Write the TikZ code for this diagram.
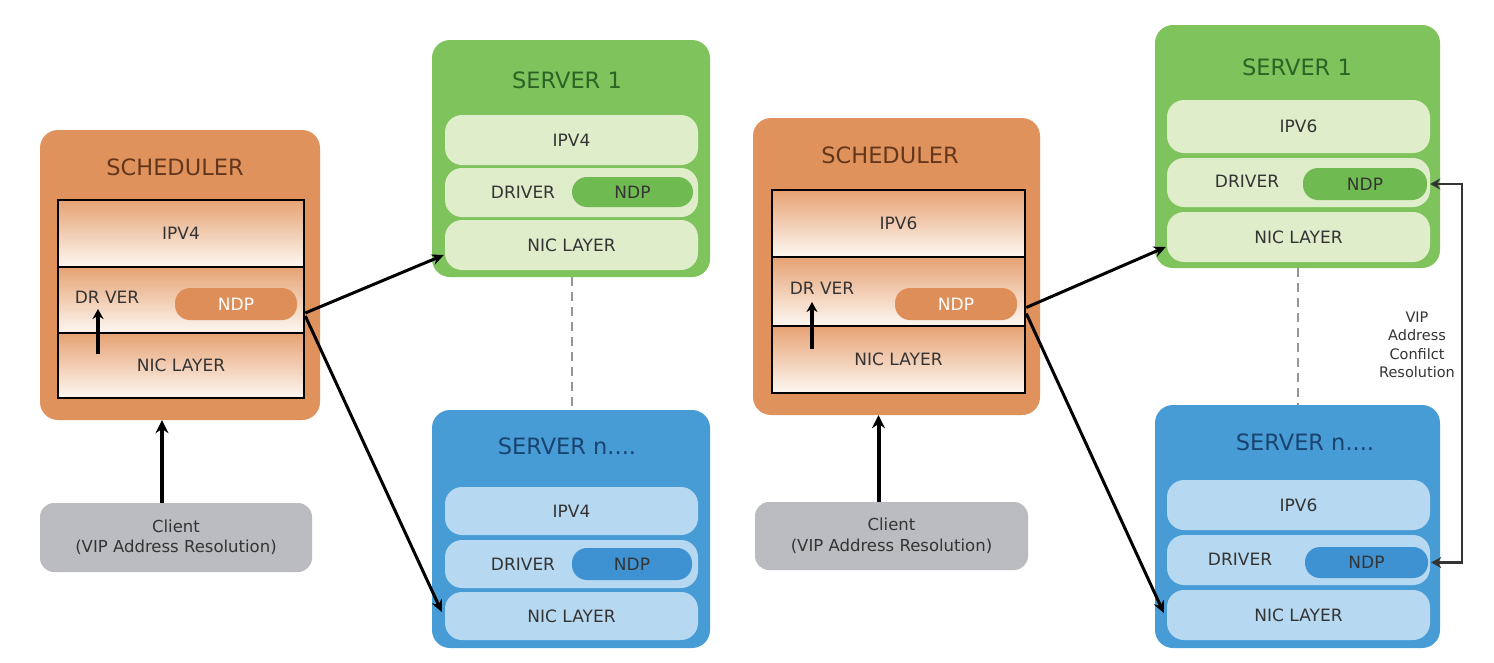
\documentclass[tikz,border=0pt]{standalone}
\usepackage{fontspec}
\setmainfont{DejaVu Sans}
\usetikzlibrary{arrows.meta}
\definecolor{orangeout}{RGB}{224,146,92}
\definecolor{orangendp}{RGB}{222,142,88}
\definecolor{stktop}{RGB}{230,162,115}
\definecolor{stkbot}{RGB}{253,248,243}
\definecolor{schtxt}{RGB}{100,55,28}
\definecolor{greenout}{RGB}{126,195,92}
\definecolor{greenpill}{RGB}{223,237,202}
\definecolor{greenndp}{RGB}{112,186,82}
\definecolor{greentxt}{RGB}{45,100,38}
\definecolor{blueout}{RGB}{72,156,214}
\definecolor{bluepill}{RGB}{182,216,240}
\definecolor{bluendp}{RGB}{62,146,210}
\definecolor{bluetxt}{RGB}{25,68,112}
\definecolor{clientgray}{RGB}{186,188,191}
\definecolor{txtgray}{RGB}{52,52,52}
\definecolor{dashgray}{RGB}{150,150,150}
\begin{document}
\begin{tikzpicture}[x=1pt,y=-1pt,
  outer/.style={rounded corners=18pt, inner sep=0pt, draw=none},
  pill/.style={rounded corners=17pt, inner sep=0pt, draw=none},
  ndppill/.style={rounded corners=15pt, inner sep=0pt, draw=none, font=\fontsize{17}{20}\selectfont},
  lbl/.style={font=\fontsize{17}{20}\selectfont, text=txtgray, inner sep=0pt},
  ttl/.style={font=\fontsize{22.5}{26}\selectfont, inner sep=0pt},
  stackrow/.style={draw=black, line width=2.6pt, top color=stktop, bottom color=stkbot, inner sep=0pt, font=\fontsize{17}{20}\selectfont, text=txtgray},
  bigarrow/.style={line width=4pt, -{Stealth[length=13pt,width=13pt]}},
  link/.style={line width=3pt, -{Stealth[length=12pt,width=11pt]}},
  smallarrow/.style={line width=3.2pt, -{Stealth[length=10pt,width=11pt]}},
  dashlink/.style={dashgray, line width=2pt, dash pattern=on 9pt off 6pt},
  clientbox/.style={rounded corners=14pt, fill=clientgray, inner sep=0pt, align=center, font=\fontsize{16.5}{20.5}\selectfont, text=txtgray}
]
\useasboundingbox[fill=white] (0,0) rectangle (1494,662);

% ---------------- left half ----------------
\node[outer, fill=orangeout, minimum width=280pt, minimum height=290pt] (sch1) at (180,275) {};
\node[ttl, text=schtxt] (sch1t) at (175,167) {SCHEDULER};
\node[stackrow, minimum width=246pt, minimum height=67pt] (sch1ipv) at (181,233.5) {IPV4};
\node[stackrow, minimum width=246pt, minimum height=66pt] (sch1drv) at (181,300) {};
\node[stackrow, minimum width=246pt, minimum height=65pt] (sch1nic) at (181,365.5) {NIC LAYER};
\node[lbl] (sch1drvt) at (107,297) {DR VER};
\node[ndppill, fill=orangendp, text=white, minimum width=122pt, minimum height=32pt] (sch1ndp) at (236,304) {NDP};
\coordinate (ua1) at (98,354);
\coordinate (ub1) at (98,309);
\draw[smallarrow] (ua1) -- (ub1);

\node[clientbox, minimum width=272pt, minimum height=69pt] (cl1) at (176,537.5) {Client\\(VIP Address Resolution)};
\draw[bigarrow] ([xshift=-14pt]cl1.north) -- ([xshift=-14pt]cl1.north |- sch1.south);

\node[outer, fill=greenout, minimum width=278pt, minimum height=237pt] (s1) at (571,158.5) {};
\node[ttl, text=greentxt] (s1t) at (567,80) {SERVER 1};
\node[pill, fill=greenpill, minimum width=253pt, minimum height=50pt, lbl] (s1ipv) at (571.5,140) {IPV4};
\node[pill, fill=greenpill, minimum width=253pt, minimum height=49pt] (s1drv) at (571.5,192.5) {};
\node[pill, fill=greenpill, minimum width=253pt, minimum height=50pt, lbl] (s1nic) at (571.5,245) {NIC LAYER};
\node[lbl] (s1drvt) at (523,192) {DRIVER};
\node[ndppill, fill=greenndp, text=txtgray, minimum width=121pt, minimum height=30pt] (s1ndp) at (632.5,192) {NDP};

\node[outer, fill=blueout, minimum width=278pt, minimum height=238pt] (s2) at (571,529) {};
\node[ttl, text=bluetxt] (s2t) at (567,446) {SERVER n....};
\node[pill, fill=bluepill, minimum width=253pt, minimum height=48pt, lbl] (s2ipv) at (571.5,511) {IPV4};
\node[pill, fill=bluepill, minimum width=253pt, minimum height=48pt] (s2drv) at (571.5,564) {};
\node[pill, fill=bluepill, minimum width=253pt, minimum height=48pt, lbl] (s2nic) at (571.5,616) {NIC LAYER};
\node[lbl] (s2drvt) at (523,564) {DRIVER};
\node[ndppill, fill=bluendp, text=txtgray, minimum width=120pt, minimum height=32pt] (s2ndp) at (632,564) {NDP};

\draw[dashlink] (s1.south -| 572,0) -- (s2.north -| 572,0);

\draw[link] ([yshift=-13pt]sch1drv.east) -- ([yshift=-10pt,xshift=-1pt]s1nic.west);
\draw[link] ([yshift=-16pt]sch1drv.east) -- ([yshift=4pt,xshift=-3pt]s2nic.west);

% ---------------- right half ----------------
\node[outer, fill=orangeout, minimum width=287pt, minimum height=297pt] (sch2) at (896.5,266.5) {};
\node[ttl, text=schtxt] (sch2t) at (890,155) {SCHEDULER};
\node[stackrow, minimum width=253pt, minimum height=67pt] (sch2ipv) at (898.5,223.5) {IPV6};
\node[stackrow, minimum width=253pt, minimum height=69pt] (sch2drv) at (898.5,291.5) {};
\node[stackrow, minimum width=253pt, minimum height=67pt] (sch2nic) at (898.5,359.5) {NIC LAYER};
\node[lbl] (sch2drvt) at (822,288) {DR VER};
\node[ndppill, fill=orangendp, text=white, minimum width=122pt, minimum height=32pt] (sch2ndp) at (956,304) {NDP};
\coordinate (ua2) at (812,349);
\coordinate (ub2) at (812,302);
\draw[smallarrow] (ua2) -- (ub2);

\node[clientbox, minimum width=273pt, minimum height=68pt] (cl2) at (891.5,536) {Client\\(VIP Address Resolution)};
\draw[bigarrow] ([xshift=-13pt]cl2.north) -- ([xshift=-13pt]cl2.north |- sch2.south);

\node[outer, fill=greenout, minimum width=285pt, minimum height=243pt] (r1) at (1297.5,146.5) {};
\node[ttl, text=greentxt] (r1t) at (1297,67) {SERVER 1};
\node[pill, fill=greenpill, minimum width=263pt, minimum height=53pt, lbl] (r1ipv) at (1298.5,126.5) {IPV6};
\node[pill, fill=greenpill, minimum width=263pt, minimum height=49pt] (r1drv) at (1298.5,182.5) {};
\node[pill, fill=greenpill, minimum width=263pt, minimum height=50pt, lbl] (r1nic) at (1298.5,237) {NIC LAYER};
\node[lbl] (r1drvt) at (1247,181) {DRIVER};
\node[ndppill, fill=greenndp, text=txtgray, minimum width=124pt, minimum height=32pt] (r1ndp) at (1365,184) {NDP};

\node[outer, fill=blueout, minimum width=285pt, minimum height=243pt] (r2) at (1297.5,526.5) {};
\node[ttl, text=bluetxt] (r2t) at (1305,442) {SERVER n....};
\node[pill, fill=bluepill, minimum width=263pt, minimum height=50pt, lbl] (r2ipv) at (1298.5,505) {IPV6};
\node[pill, fill=bluepill, minimum width=263pt, minimum height=50pt] (r2drv) at (1298.5,560) {};
\node[pill, fill=bluepill, minimum width=263pt, minimum height=50pt, lbl] (r2nic) at (1298.5,615) {NIC LAYER};
\node[lbl] (r2drvt) at (1240,559) {DRIVER};
\node[ndppill, fill=bluendp, text=txtgray, minimum width=123pt, minimum height=31pt] (r2ndp) at (1366.5,562.5) {NDP};

\draw[dashlink] (r1.south -| 1298,0) -- (r2.north -| 1298,0);

\draw[link] ([yshift=-16pt]sch2drv.east) -- ([yshift=-10pt,xshift=-1pt]r1nic.west);
\draw[link] ([yshift=-22pt]sch2drv.east) -- ([yshift=2pt,xshift=-3pt]r2nic.west);

\draw[line width=2.4pt, draw=txtgray, {Stealth[length=10pt,width=11pt]}-{Stealth[length=10pt,width=11pt]}]
  ([xshift=3pt]r1ndp.east) -- ++(32,0) coordinate (vipc) |- ([xshift=3pt]r2ndp.east);
\node[font=\fontsize{14.5}{18.5}\selectfont, text=txtgray, align=center, inner sep=0pt] (viptxt) at (1417,345) {VIP\\Address\\Confilct\\Resolution};
\end{tikzpicture}
\end{document}
